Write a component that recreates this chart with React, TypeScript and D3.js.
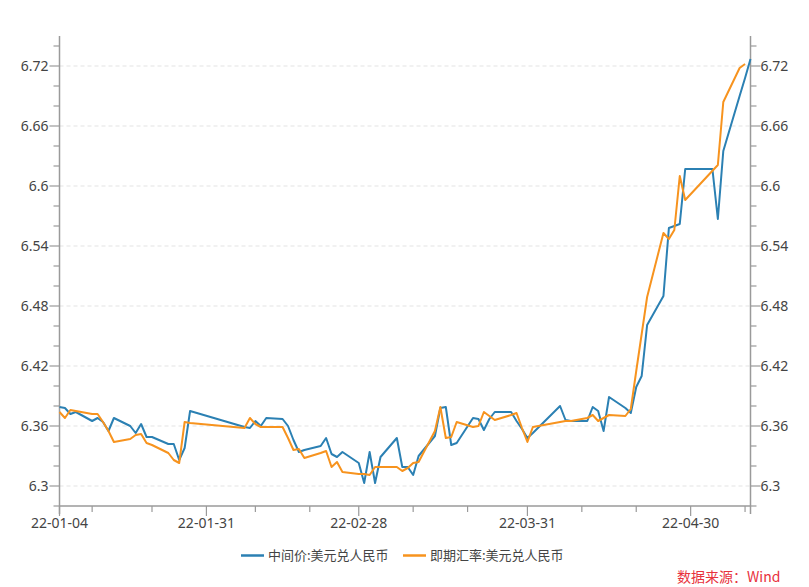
import React from "react";
import * as d3 from "d3";

const janDates = ["01-04","01-05","01-06","01-07","01-10","01-11","01-12","01-13","01-14","01-17","01-18","01-19","01-20","01-21","01-24","01-25","01-26","01-27","01-28"];
const febDates = ["02-07","02-08","02-09","02-10","02-11","02-14","02-15","02-16","02-17","02-18","02-21","02-22","02-23","02-24","02-25","02-28"];
const marDates = ["03-01","03-02","03-03","03-04","03-07","03-08","03-09","03-10","03-11","03-14","03-15","03-16","03-17","03-18","03-21","03-22","03-23","03-24","03-25","03-28","03-29","03-30","03-31"];
const aprDates = ["04-01","04-06","04-07","04-08","04-11","04-12","04-13","04-14","04-15","04-18","04-19","04-20","04-21","04-22","04-25","04-26","04-27","04-28","04-29"];
const mayDates = ["05-04","05-05","05-06","05-09","05-10","05-11"];
const dates = [...janDates, ...febDates, ...marDates, ...aprDates, ...mayDates].map((d) => "2022-" + d);

// 中间价:美元兑人民币
const midRate: (number | null)[] = [
  6.379, 6.378, 6.372, 6.374, 6.365, 6.368, 6.364, 6.355, 6.368, 6.360, 6.353, 6.362, 6.349, 6.349, 6.342, 6.342, 6.326, 6.338, 6.375,
  6.359, 6.358, 6.365, 6.360, 6.368, 6.367, 6.360, 6.346, 6.334, 6.336, 6.340, 6.348, 6.332, 6.329, 6.334, 6.323,
  6.303, 6.334, 6.303, 6.329, 6.348, 6.319, 6.319, 6.311, 6.330, 6.350, 6.378, 6.379, 6.341, 6.343, 6.368, 6.367, 6.356, 6.367, 6.374, 6.374, 6.365, 6.357, 6.348,
  6.353, 6.380, 6.366, 6.365, 6.365, 6.379, 6.375, 6.355, 6.389, 6.378, 6.373, 6.399, 6.410, 6.461, 6.490, 6.558, 6.560, 6.562, 6.617,
  6.617, 6.567, 6.635, 6.690, 6.708, 6.727,
];

// 即期汇率:美元兑人民币
const spotRate: (number | null)[] = [
  6.374, 6.368, 6.376, 6.375, 6.372, 6.372, 6.364, 6.355, 6.344, 6.347, 6.351, 6.352, 6.343, 6.341, 6.333, 6.326, 6.323, 6.364, 6.363,
  6.358, 6.368, 6.362, 6.359, 6.359, 6.359, 6.348, 6.336, 6.337, 6.328, 6.333, 6.335, 6.319, 6.324, 6.314, 6.312,
  6.312, 6.311, 6.319, 6.319, 6.319, 6.315, 6.318, 6.323, 6.324, 6.355, 6.379, 6.348, 6.349, 6.364, 6.359, 6.360, 6.374, 6.370, 6.366, 6.371, 6.373, 6.358, 6.344,
  6.359, 6.364, 6.365, 6.365, 6.368, 6.371, 6.365, 6.368, 6.371, 6.370, 6.377, 6.415, 6.452, 6.489, 6.553, 6.547, 6.556, 6.610, 6.586,
  null, 6.621, 6.684, 6.718, 6.722, null,
];

const seriesNames = ["中间价:美元兑人民币", "即期汇率:美元兑人民币"];
const seriesColors = ["#2b80b3", "#f7931e"];

const yTicks = [6.3, 6.36, 6.42, 6.48, 6.54, 6.6, 6.66, 6.72];
const yMinorTicks = [6.28, 6.32, 6.34, 6.38, 6.4, 6.44, 6.46, 6.5, 6.52, 6.56, 6.58, 6.62, 6.64, 6.68, 6.7, 6.74];
const xLabelDates = ["2022-01-04", "2022-01-31", "2022-02-28", "2022-03-31", "2022-04-30"];
const xLabels = ["22-01-04", "22-01-31", "22-02-28", "22-03-31", "22-04-30"];
const xMinorDates = ["2022-01-10", "2022-01-21", "2022-02-09", "2022-02-19", "2022-03-10", "2022-03-20", "2022-04-10", "2022-04-20", "2022-05-10"];

const parse = d3.utcParse("%Y-%m-%d");

export default function App() {
  const W = 809, H = 587;
  const left = 59.5, right = 750.5, top = 36, bottom = 506;
  const x = d3.scaleUtc().domain([parse("2022-01-04")!, parse("2022-05-11")!]).range([left, right]);
  const y = d3.scaleLinear().domain([6.28, 6.75]).range([bottom, top]);

  const mk = (vals: (number | null)[]) =>
    dates.map((d, i) => ({ date: parse(d)!, v: vals[i] })).filter((p) => p.v != null) as { date: Date; v: number }[];
  const series = [mk(midRate), mk(spotRate)];
  const line = d3.line<{ date: Date; v: number }>().x((p) => x(p.date)).y((p) => y(p.v));

  const axisColor = "#9a9a9a";
  const textColor = "#444";
  const numFont = "'Noto Sans', 'Open Sans', sans-serif";
  const cjkFont = "'Noto Sans CJK SC', sans-serif";

  return (
    <svg width={W} height={H} style={{ position: "absolute", left: 0, top: 0, background: "#fff" }}>
      {/* grid */}
      {yTicks.map((t) => (
        <line key={"g" + t} x1={left} x2={right} y1={y(t)} y2={y(t)} stroke="#e3e3e3" strokeDasharray="4,3" />
      ))}
      {/* left axis */}
      <line x1={left} x2={left} y1={top} y2={bottom + 8} stroke={axisColor} strokeWidth={1.5} />
      {yTicks.map((t) => (
        <g key={"ly" + t}>
          <line x1={left - 10} x2={left} y1={y(t)} y2={y(t)} stroke={axisColor} strokeWidth={1.2} />
          <text x={left - 11} y={y(t)} dy="0.35em" textAnchor="end" fontSize={14} fill={textColor} fontFamily={numFont}>{String(t)}</text>
        </g>
      ))}
      {yMinorTicks.map((t) => (
        <line key={"lm" + t} x1={left - 6} x2={left} y1={y(t)} y2={y(t)} stroke={axisColor} strokeWidth={1.2} />
      ))}
      {/* right axis */}
      <line x1={right} x2={right} y1={top} y2={bottom + 8} stroke={axisColor} strokeWidth={1.5} />
      {yTicks.map((t) => (
        <g key={"ry" + t}>
          <line x1={right} x2={right + 10} y1={y(t)} y2={y(t)} stroke={axisColor} strokeWidth={1.2} />
          <text x={right + 10} y={y(t)} dy="0.35em" textAnchor="start" fontSize={14} fill={textColor} fontFamily={numFont}>{String(t)}</text>
        </g>
      ))}
      {yMinorTicks.map((t) => (
        <line key={"rm" + t} x1={right} x2={right + 6} y1={y(t)} y2={y(t)} stroke={axisColor} strokeWidth={1.2} />
      ))}
      {/* x axis */}
      <line x1={left} x2={right} y1={bottom} y2={bottom} stroke={axisColor} strokeWidth={1.5} />
      {xLabelDates.map((d, i) => (
        <g key={"xl" + d}>
          <line x1={x(parse(d)!)} x2={x(parse(d)!)} y1={bottom} y2={bottom + 10} stroke={axisColor} strokeWidth={1.2} />
          <text x={x(parse(d)!)} y={528} textAnchor="middle" fontSize={14} fill={textColor} fontFamily={numFont}>{xLabels[i]}</text>
        </g>
      ))}
      {xMinorDates.map((d) => (
        <line key={"xm" + d} x1={x(parse(d)!)} x2={x(parse(d)!)} y1={bottom} y2={bottom + 6} stroke={axisColor} strokeWidth={1.2} />
      ))}
      {/* lines */}
      {series.map((s, i) => (
        <path key={"s" + i} d={line(s) || ""} fill="none" stroke={seriesColors[i]} strokeWidth={2} strokeLinejoin="round" />
      ))}
      {/* legend */}
      <g>
        <line x1={241} x2={264} y1={555.5} y2={555.5} stroke={seriesColors[0]} strokeWidth={2.5} />
        <text x={268} y={555.5} dy="0.35em" fontSize={13} fill={textColor} fontFamily={cjkFont}>{seriesNames[0]}</text>
        <line x1={403} x2={426} y1={555.5} y2={555.5} stroke={seriesColors[1]} strokeWidth={2.5} />
        <text x={430} y={555.5} dy="0.35em" fontSize={13} fill={textColor} fontFamily={cjkFont}>{seriesNames[1]}</text>
      </g>
      <text x={677} y={577} dy="0.35em" fontSize={14} fill="#e8323c" fontFamily={cjkFont}>数据来源：Wind</text>
    </svg>
  );
}
